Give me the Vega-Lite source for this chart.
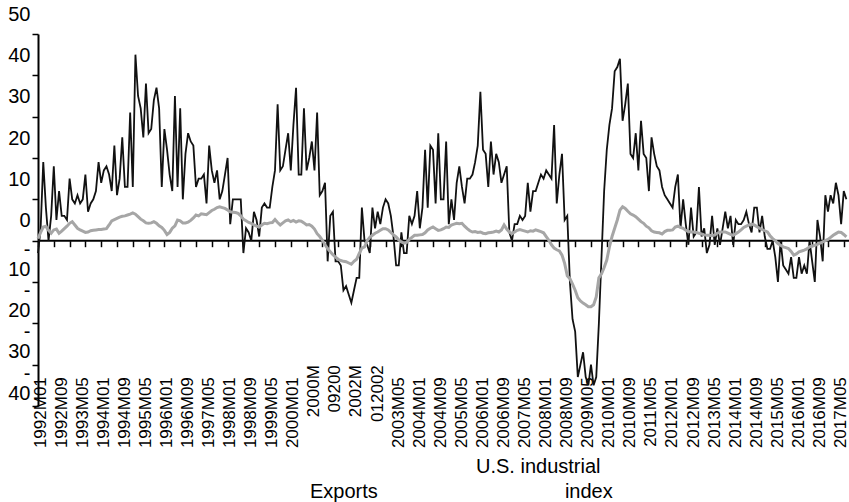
{
"$schema":"https://vega.github.io/schema/vega-lite/v6.json",
"width":811,"height":372,
"autosize":{"type":"none"},
"padding":{"left":38,"top":34,"right":0,"bottom":96},
"background":"white",
"config":{"view":{"stroke":null},"font":"Liberation Sans"},
"data":{"values":[
{"p":"1992M01","e":-3,"u":0.5},{"p":"1992M02","e":3,"u":2},{"p":"1992M03","e":19,"u":3.3},{"p":"1992M04","e":8,"u":3.5},{"p":"1992M05","e":0,"u":2.5},{"p":"1992M06","e":6,"u":1.8},{"p":"1992M07","e":18,"u":2.6},{"p":"1992M08","e":5,"u":2.8},{"p":"1992M09","e":12,"u":1.8},{"p":"1992M10","e":6,"u":2.3},{"p":"1992M11","e":6,"u":2.9},{"p":"1992M12","e":5,"u":3.5},
{"p":"1993M01","e":15,"u":4.2},{"p":"1993M02","e":10,"u":4.6},{"p":"1993M03","e":9,"u":3.8},{"p":"1993M04","e":11,"u":3},{"p":"1993M05","e":9,"u":2.6},{"p":"1993M06","e":10,"u":2.3},{"p":"1993M07","e":16,"u":2},{"p":"1993M08","e":7,"u":2.1},{"p":"1993M09","e":9,"u":2.4},{"p":"1993M10","e":10,"u":2.5},{"p":"1993M11","e":12,"u":2.6},{"p":"1993M12","e":19,"u":2.7},
{"p":"1994M01","e":14,"u":2.7},{"p":"1994M02","e":17,"u":2.8},{"p":"1994M03","e":18,"u":2.9},{"p":"1994M04","e":16,"u":3.8},{"p":"1994M05","e":12,"u":4.8},{"p":"1994M06","e":23,"u":5.1},{"p":"1994M07","e":11,"u":5.4},{"p":"1994M08","e":15,"u":5.7},{"p":"1994M09","e":25,"u":5.9},{"p":"1994M10","e":13,"u":6},{"p":"1994M11","e":13,"u":6.2},{"p":"1994M12","e":31,"u":6.4},
{"p":"1995M01","e":13,"u":6.7},{"p":"1995M02","e":45,"u":6.4},{"p":"1995M03","e":35,"u":5.8},{"p":"1995M04","e":32,"u":5.2},{"p":"1995M05","e":25,"u":4.8},{"p":"1995M06","e":38,"u":4.3},{"p":"1995M07","e":26,"u":4.2},{"p":"1995M08","e":27,"u":4.3},{"p":"1995M09","e":34,"u":4.6},{"p":"1995M10","e":37,"u":4.2},{"p":"1995M11","e":32,"u":3.6},{"p":"1995M12","e":13,"u":3.2},
{"p":"1996M01","e":27,"u":2.5},{"p":"1996M02","e":22,"u":1.5},{"p":"1996M03","e":16,"u":2},{"p":"1996M04","e":12,"u":3},{"p":"1996M05","e":35,"u":3.6},{"p":"1996M06","e":13,"u":5},{"p":"1996M07","e":32,"u":4.8},{"p":"1996M08","e":10,"u":4.3},{"p":"1996M09","e":21,"u":4.3},{"p":"1996M10","e":26,"u":4.5},{"p":"1996M11","e":24,"u":4.9},{"p":"1996M12","e":23,"u":5.5},
{"p":"1997M01","e":13,"u":6.2},{"p":"1997M02","e":15,"u":6},{"p":"1997M03","e":15,"u":6.5},{"p":"1997M04","e":16,"u":6.4},{"p":"1997M05","e":9,"u":6.3},{"p":"1997M06","e":23,"u":6.8},{"p":"1997M07","e":17,"u":7.3},{"p":"1997M08","e":14,"u":7.6},{"p":"1997M09","e":17,"u":8},{"p":"1997M10","e":10,"u":8.2},{"p":"1997M11","e":12,"u":8},{"p":"1997M12","e":16,"u":7.8},
{"p":"1998M01","e":20,"u":7.4},{"p":"1998M02","e":4,"u":7},{"p":"1998M03","e":10,"u":6.9},{"p":"1998M04","e":10,"u":6.8},{"p":"1998M05","e":10,"u":6.6},{"p":"1998M06","e":10,"u":6},{"p":"1998M07","e":-3,"u":5.2},{"p":"1998M08","e":3,"u":4.8},{"p":"1998M09","e":2,"u":4.4},{"p":"1998M10","e":0,"u":4.2},{"p":"1998M11","e":7,"u":3.8},{"p":"1998M12","e":5,"u":3.5},
{"p":"1999M01","e":1,"u":3.3},{"p":"1999M02","e":8,"u":3.8},{"p":"1999M03","e":9,"u":4.2},{"p":"1999M04","e":8,"u":4.1},{"p":"1999M05","e":8,"u":4.3},{"p":"1999M06","e":13,"u":4.4},{"p":"1999M07","e":17,"u":5.1},{"p":"1999M08","e":33,"u":4.4},{"p":"1999M09","e":17,"u":3.8},{"p":"1999M10","e":18,"u":4.3},{"p":"1999M11","e":22,"u":4.8},{"p":"1999M12","e":26,"u":5},
{"p":"2000M01","e":17,"u":4.6},{"p":"2000M02","e":28,"u":4.9},{"p":"2000M03","e":37,"u":4.5},{"p":"2000M04","e":16,"u":4.8},{"p":"2000M05","e":16,"u":4.7},{"p":"2000M06","e":32,"u":4.3},{"p":"2000M07","e":17,"u":3.8},{"p":"2000M08","e":20,"u":3.9},{"p":"2000M09","e":24,"u":3.5},{"p":"2000M10","e":17,"u":2.8},{"p":"2000M11","e":31,"u":1.7},{"p":"2000M12","e":11,"u":1},
{"p":"2001M01","e":12,"u":0.1},{"p":"2001M02","e":14,"u":-1},{"p":"2001M03","e":-5,"u":-1.9},{"p":"2001M04","e":6,"u":-2.7},{"p":"2001M05","e":7,"u":-3.4},{"p":"2001M06","e":-5,"u":-4},{"p":"2001M07","e":-5,"u":-4.5},{"p":"2001M08","e":-6,"u":-4.8},{"p":"2001M09","e":-12,"u":-5},{"p":"2001M10","e":-11,"u":-5.1},{"p":"2001M11","e":-13,"u":-5.4},{"p":"2001M12","e":-15,"u":-5.7},
{"p":"2002M01","e":-12,"u":-5},{"p":"2002M02","e":-9,"u":-4.5},{"p":"2002M03","e":-9,"u":-3.1},{"p":"2002M04","e":8,"u":-1.8},{"p":"2002M05","e":0,"u":-1.5},{"p":"2002M06","e":-1,"u":0},{"p":"2002M07","e":-3,"u":0.8},{"p":"2002M08","e":8,"u":1.3},{"p":"2002M09","e":3,"u":1.8},{"p":"2002M10","e":7,"u":2.1},{"p":"2002M11","e":4,"u":2.5},{"p":"2002M12","e":8,"u":2.9},
{"p":"2003M01","e":10,"u":2.9},{"p":"2003M02","e":9,"u":2.6},{"p":"2003M03","e":6,"u":2},{"p":"2003M04","e":1,"u":1.4},{"p":"2003M05","e":-6,"u":0.9},{"p":"2003M06","e":-6,"u":0.2},{"p":"2003M07","e":2,"u":-0.3},{"p":"2003M08","e":-3,"u":-0.6},{"p":"2003M09","e":-3,"u":-0.4},{"p":"2003M10","e":6,"u":0.3},{"p":"2003M11","e":4,"u":0.8},{"p":"2003M12","e":6,"u":1.3},
{"p":"2004M01","e":12,"u":1.3},{"p":"2004M02","e":3,"u":1.4},{"p":"2004M03","e":8,"u":1.5},{"p":"2004M04","e":22,"u":1.9},{"p":"2004M05","e":8,"u":2.6},{"p":"2004M06","e":23,"u":3},{"p":"2004M07","e":22,"u":3.3},{"p":"2004M08","e":9,"u":2.9},{"p":"2004M09","e":26,"u":2.5},{"p":"2004M10","e":10,"u":2.6},{"p":"2004M11","e":10,"u":2.9},{"p":"2004M12","e":24,"u":3.3},
{"p":"2005M01","e":4,"u":3.2},{"p":"2005M02","e":10,"u":3.8},{"p":"2005M03","e":5,"u":4},{"p":"2005M04","e":14,"u":4.2},{"p":"2005M05","e":18,"u":4.1},{"p":"2005M06","e":13,"u":4.2},{"p":"2005M07","e":9,"u":3.5},{"p":"2005M08","e":15,"u":2.9},{"p":"2005M09","e":15,"u":2.4},{"p":"2005M10","e":16,"u":2.1},{"p":"2005M11","e":19,"u":2.2},{"p":"2005M12","e":23,"u":2},
{"p":"2006M01","e":36,"u":2.1},{"p":"2006M02","e":22,"u":1.8},{"p":"2006M03","e":21,"u":1.7},{"p":"2006M04","e":13,"u":1.9},{"p":"2006M05","e":24,"u":2},{"p":"2006M06","e":16,"u":2.1},{"p":"2006M07","e":21,"u":2.3},{"p":"2006M08","e":19,"u":2.1},{"p":"2006M09","e":14,"u":2.6},{"p":"2006M10","e":16,"u":3.8},{"p":"2006M11","e":18,"u":2.8},{"p":"2006M12","e":2,"u":2.1},
{"p":"2007M01","e":0,"u":1.7},{"p":"2007M02","e":4,"u":2.1},{"p":"2007M03","e":4,"u":2.5},{"p":"2007M04","e":6,"u":2.7},{"p":"2007M05","e":5,"u":2.5},{"p":"2007M06","e":6,"u":2.3},{"p":"2007M07","e":14,"u":2.1},{"p":"2007M08","e":7,"u":2.4},{"p":"2007M09","e":12,"u":2.3},{"p":"2007M10","e":12,"u":2.6},{"p":"2007M11","e":14,"u":2.4},{"p":"2007M12","e":16,"u":2.2},
{"p":"2008M01","e":15,"u":1.9},{"p":"2008M02","e":17,"u":1},{"p":"2008M03","e":16,"u":0.1},{"p":"2008M04","e":15,"u":-1},{"p":"2008M05","e":28,"u":-1.8},{"p":"2008M06","e":9,"u":-2.2},{"p":"2008M07","e":16,"u":-2.5},{"p":"2008M08","e":21,"u":-3.5},{"p":"2008M09","e":5,"u":-5.5},{"p":"2008M10","e":6,"u":-8.5},{"p":"2008M11","e":-10,"u":-9.2},{"p":"2008M12","e":-19,"u":-10.5},
{"p":"2009M01","e":-22,"u":-12},{"p":"2009M02","e":-33,"u":-13.8},{"p":"2009M03","e":-30,"u":-14.6},{"p":"2009M04","e":-27,"u":-15.1},{"p":"2009M05","e":-33,"u":-15.5},{"p":"2009M06","e":-35,"u":-16},{"p":"2009M07","e":-30,"u":-16},{"p":"2009M08","e":-35,"u":-15.5},{"p":"2009M09","e":-33,"u":-13.6},{"p":"2009M10","e":-20,"u":-9},{"p":"2009M11","e":-4,"u":-8},{"p":"2009M12","e":12,"u":-6.5},
{"p":"2010M01","e":22,"u":-4.7},{"p":"2010M02","e":28,"u":-1.5},{"p":"2010M03","e":32,"u":1},{"p":"2010M04","e":41,"u":3},{"p":"2010M05","e":42,"u":5},{"p":"2010M06","e":44,"u":7.4},{"p":"2010M07","e":29,"u":8.2},{"p":"2010M08","e":33,"u":7.8},{"p":"2010M09","e":38,"u":7.1},{"p":"2010M10","e":21,"u":6.5},{"p":"2010M11","e":20,"u":6.2},{"p":"2010M12","e":26,"u":5.8},
{"p":"2011M01","e":17,"u":5.2},{"p":"2011M02","e":29,"u":4.6},{"p":"2011M03","e":21,"u":4.2},{"p":"2011M04","e":20,"u":3.5},{"p":"2011M05","e":12,"u":3.1},{"p":"2011M06","e":25,"u":2.4},{"p":"2011M07","e":21,"u":2.1},{"p":"2011M08","e":18,"u":2},{"p":"2011M09","e":17,"u":1.9},{"p":"2011M10","e":13,"u":1.6},{"p":"2011M11","e":11,"u":2.2},{"p":"2011M12","e":10,"u":2.5},
{"p":"2012M01","e":9,"u":2.5},{"p":"2012M02","e":8,"u":2.6},{"p":"2012M03","e":13,"u":3.3},{"p":"2012M04","e":16,"u":3.5},{"p":"2012M05","e":3,"u":3.2},{"p":"2012M06","e":10,"u":3},{"p":"2012M07","e":4,"u":2.5},{"p":"2012M08","e":-1,"u":2.2},{"p":"2012M09","e":8,"u":2.1},{"p":"2012M10","e":1,"u":2.1},{"p":"2012M11","e":2,"u":2},{"p":"2012M12","e":13,"u":1.8},
{"p":"2013M01","e":1,"u":1.6},{"p":"2013M02","e":3,"u":1.4},{"p":"2013M03","e":-3,"u":1.3},{"p":"2013M04","e":-1,"u":1.3},{"p":"2013M05","e":6,"u":1.2},{"p":"2013M06","e":-1,"u":1.4},{"p":"2013M07","e":3,"u":1.8},{"p":"2013M08","e":-1,"u":2.1},{"p":"2013M09","e":3,"u":2.1},{"p":"2013M10","e":7,"u":2.1},{"p":"2013M11","e":3,"u":1.8},{"p":"2013M12","e":6,"u":1.5},
{"p":"2014M01","e":-1,"u":1.3},{"p":"2014M02","e":5,"u":1.7},{"p":"2014M03","e":4,"u":2.1},{"p":"2014M04","e":4,"u":2.6},{"p":"2014M05","e":5,"u":3.2},{"p":"2014M06","e":7,"u":3.5},{"p":"2014M07","e":4,"u":3.8},{"p":"2014M08","e":2,"u":4},{"p":"2014M09","e":8,"u":3.8},{"p":"2014M10","e":8,"u":3.4},{"p":"2014M11","e":2,"u":3},{"p":"2014M12","e":6,"u":2.7},
{"p":"2015M01","e":1,"u":2.4},{"p":"2015M02","e":-2,"u":2.1},{"p":"2015M03","e":-2,"u":1.2},{"p":"2015M04","e":0,"u":0.5},{"p":"2015M05","e":-4,"u":0},{"p":"2015M06","e":-10,"u":-0.7},{"p":"2015M07","e":0,"u":-1.1},{"p":"2015M08","e":-6,"u":-1.5},{"p":"2015M09","e":-7,"u":-1.7},{"p":"2015M10","e":-8,"u":-1.9},{"p":"2015M11","e":-4,"u":-2.6},{"p":"2015M12","e":-9,"u":-3.5},
{"p":"2016M01","e":-9,"u":-3.2},{"p":"2016M02","e":-4,"u":-2.7},{"p":"2016M03","e":-8,"u":-2.5},{"p":"2016M04","e":-6,"u":-2.3},{"p":"2016M05","e":-8,"u":-2},{"p":"2016M06","e":0,"u":-1.5},{"p":"2016M07","e":-5,"u":-1.3},{"p":"2016M08","e":-10,"u":-1.1},{"p":"2016M09","e":5,"u":-0.9},{"p":"2016M10","e":1,"u":-0.6},{"p":"2016M11","e":-5,"u":-0.3},{"p":"2016M12","e":11,"u":0},
{"p":"2017M01","e":7,"u":0.3},{"p":"2017M02","e":11,"u":0.8},{"p":"2017M03","e":9,"u":1.3},{"p":"2017M04","e":14,"u":1.7},{"p":"2017M05","e":11,"u":2.1},{"p":"2017M06","e":4,"u":2},{"p":"2017M07","e":12,"u":1.5},{"p":"2017M08","e":10,"u":0.9}
]},
"layer":[
{"data":{"values":[{}]},
 "mark":{"type":"rule","color":"#000000","strokeWidth":2},
 "encoding":{"y":{"datum":0,"type":"quantitative"}}},
{"mark":{"type":"line","strokeWidth":1.8,"interpolate":"linear"},
 "encoding":{
  "x":{"field":"p","type":"ordinal","scale":{"type":"point","padding":0,"range":[0,808.4]},
   "axis":{"title":null,"orient":"bottom","offset":-165.3,"domain":false,"grid":false,
    "tickSize":6,"tickColor":"#000000","tickWidth":1.5,
    "tickOpacity":{"condition":{"test":"((toNumber(substring(datum.value,0,4))-1992)*12+toNumber(substring(datum.value,5,7))-1)%6==0","value":1},"value":0},
    "labelAngle":-90,"labelFontSize":17,"labelColor":"#000000","labelBaseline":"middle","labelAlign":"right",
    "labelPadding":{"condition":{"test":"datum.value=='2000M09'||datum.value=='2001M05'||datum.value=='2002M01'||datum.value=='2002M09'","value":118},"value":130},
    "labelOffset":2,"labelOverlap":false,"labelBound":false,"labelFlush":false,
    "labelExpr":"datum.value=='2000M09'?'2000M':datum.value=='2001M05'?'09200':datum.value=='2002M01'?'2002M':datum.value=='2002M09'?'012002':(((toNumber(substring(datum.value,0,4))-1992)*12+toNumber(substring(datum.value,5,7))-1)%8==0?datum.value:'')"}},
  "y":{"field":"e","type":"quantitative","scale":{"domain":[-40,50],"nice":false,"zero":false},
   "axis":{"title":null,"values":[-40,-30,-20,-10,0,10,20,30,40,50],"grid":false,
    "domainColor":"#000000","domainWidth":2,"tickColor":"#000000","tickWidth":1.5,"tickSize":6,
    "labelFontSize":20,"labelColor":"#000000","labelPadding":2,"labelLineHeight":20,
    "labelOffset":{"condition":{"test":"datum.value < 0","value":-33},"value":-20},
    "labelExpr":"datum.value < 0 ? ['-', format(-datum.value,'d')] : format(datum.value,'d')",
    "labelBound":false,"labelFlush":false,"labelOverlap":false}},
  "color":{"datum":"Exports","type":"nominal",
   "scale":{"domain":["Exports","U.S. industrial index"],"range":["#111111","#a6a6a6"]},
   "legend":{"title":null,"orient":"none","legendX":252,"legendY":423,"direction":"horizontal",
    "symbolSize":0,"symbolStrokeWidth":0,"symbolOpacity":0,"labelOffset":0,"padding":0,
    "labelFontSize":20,"labelColor":"#000000","columnPadding":78,"labelLimit":400,
    "labelExpr":"datum.label == 'Exports' ? ['', 'Exports'] : ['U.S. industrial', '\u200b\u00a0\u00a0\u00a0\u00a0\u00a0\u00a0\u00a0\u00a0\u00a0\u00a0\u00a0\u00a0\u00a0\u00a0\u00a0\u00a0index']",
    "encode":{"labels":{"update":{"lineHeight":{"value":25}}}}}}}},
{"mark":{"type":"line","strokeWidth":3,"interpolate":"linear"},
 "encoding":{
  "x":{"field":"p","type":"ordinal"},
  "y":{"field":"u","type":"quantitative"},
  "color":{"datum":"U.S. industrial index","type":"nominal"}}}
]
}
